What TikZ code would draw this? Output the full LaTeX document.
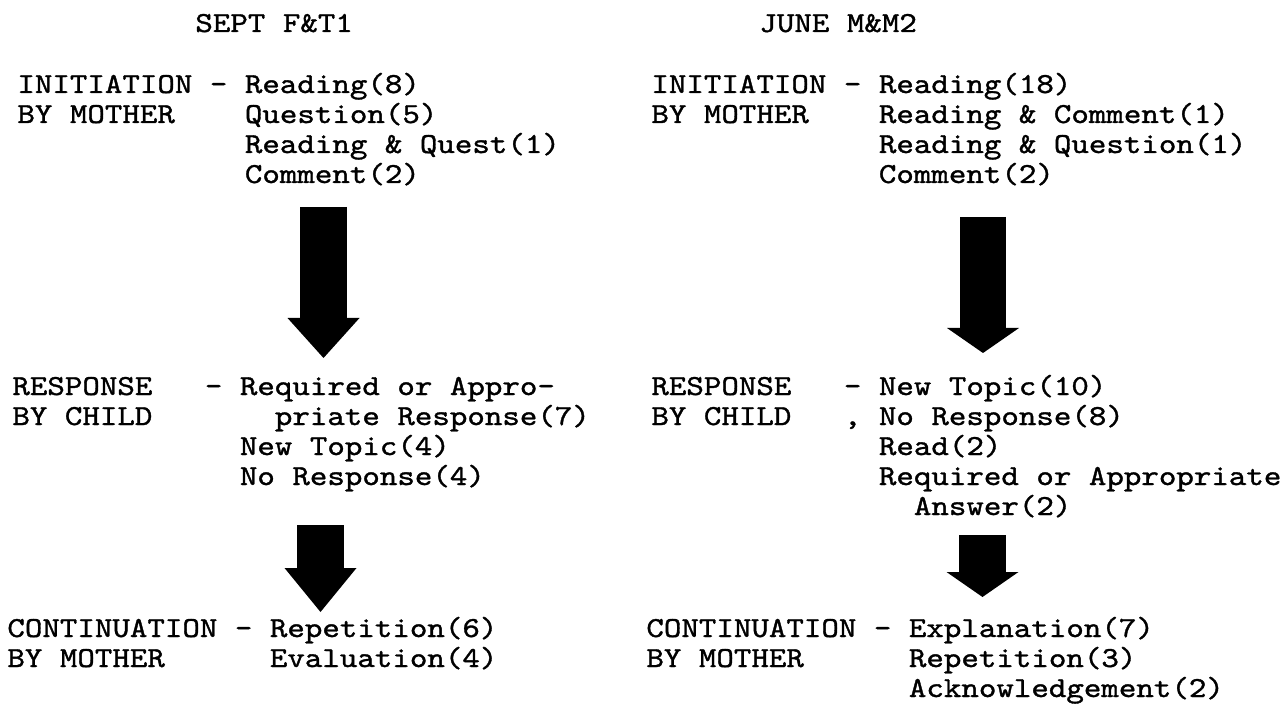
\documentclass[tikz,border=0pt]{standalone}
\usepackage{fontspec}
\setmainfont{lmmono10-regular.otf}[FakeStretch=1.1494, FakeBold=1.2]
\usetikzlibrary{positioning, calc, arrows.meta}

\newcommand{\textlines}[1]{\begin{tabular}[t]{@{}l@{}}#1\end{tabular}}

\begin{document}
\begin{tikzpicture}[x=0.5pt, y=-0.5pt, every node/.style={inner sep=0pt, anchor=base west,
        font=\fontsize{14.5pt}{15pt}\selectfont}
    , fatarrow/.style={line width=23.25pt, -{Triangle[length=#1, width=36pt, line width=0pt]}}
    ]

    \useasboundingbox (0,0) rectangle (1282,706);

    % left column: september session
    \node (septT) at (195,32) {SEPT F\&T1};

    \node (iniL) at (17,93) {\textlines{INITIATION\\BY MOTHER}};
    \node (iniLd) at (209.5,93) {-};
    \node (iniLi) at (244.5,93) {\textlines{Reading(8)\\Question(5)\\Reading \& Quest(1)\\Comment(2)}};

    \node (resL) at (12,395) {\textlines{RESPONSE\\BY CHILD}};
    \node (resLd) at (204.5,395) {-};
    \node (resLi) at (239.5,395) {\textlines{Required or Appro-\\\hspace*{17.5pt}priate Response(7)\\New Topic(4)\\No Response(4)}};

    \node (conL) at (7,637) {\textlines{CONTINUATION\\BY MOTHER}};
    \node (conLd) at (234.5,637) {-};
    \node (conLi) at (269.5,637) {\textlines{Repetition(6)\\Evaluation(4)}};

    % right column: june session
    \node (juneT) at (759,32) {JUNE M\&M2};

    \node (iniR) at (651,93) {\textlines{INITIATION\\BY MOTHER}};
    \node (iniRd) at (843.5,93) {-};
    \node (iniRi) at (878.5,93) {\textlines{Reading(18)\\Reading \& Comment(1)\\Reading \& Question(1)\\Comment(2)}};

    \node (resR) at (651,395) {\textlines{RESPONSE\\BY CHILD}};
    \node (resRd) at (843.5,395) {-};
    \node (resRc) at (843.5,425) {,};
    \node (resRi) at (878.5,395) {\textlines{New Topic(10)\\No Response(8)\\Read(2)\\Required or Appropriate\\\hspace*{17.5pt}Answer(2)}};

    \node (conR) at (646,637) {\textlines{CONTINUATION\\BY MOTHER}};
    \node (conRd) at (873.5,637) {-};
    \node (conRi) at (908.5,637) {\textlines{Explanation(7)\\Repetition(3)\\Acknowledgement(2)}};

    % the big arrows
    \coordinate (aL1top) at (323.5,207);
    \coordinate (aL1tip) at (323.5,358);
    \coordinate (aL2top) at (320.5,525);
    \coordinate (aL2tip) at (320.5,612);
    \coordinate (aR1top) at (983,217);
    \coordinate (aR1tip) at (983,353);
    \coordinate (aR2top) at (982.5,535);
    \coordinate (aR2tip) at (982.5,597);

    \draw[fatarrow=20pt] (aL1top) -- (aL1tip);
    \draw[fatarrow=22pt] (aL2top) -- (aL2tip);
    \draw[fatarrow=12.5pt] (aR1top) -- (aR1tip);
    \draw[fatarrow=12.5pt] (aR2top) -- (aR2tip);

\end{tikzpicture}
\end{document}
